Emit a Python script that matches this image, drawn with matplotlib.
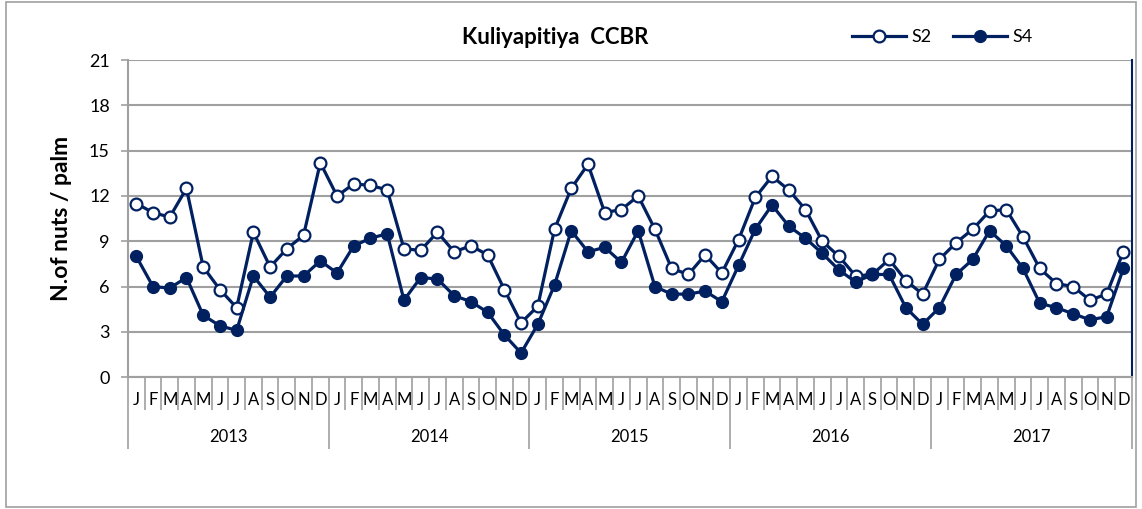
import numpy as np
import matplotlib.pyplot as plt
from matplotlib.patches import Rectangle
import matplotlib.transforms as mtransforms

plt.rcParams['font.family'] = ['Lato', 'DejaVu Sans']

years = ['2013', '2014', '2015', '2016', '2017']
months = ['J', 'F', 'M', 'A', 'M', 'J', 'J', 'A', 'S', 'O', 'N', 'D']

s2 = [11.5, 10.9, 10.6, 12.5, 7.3, 5.8, 4.6, 9.6, 7.3, 8.5, 9.4, 14.2,
      12.0, 12.8, 12.7, 12.4, 8.5, 8.4, 9.6, 8.3, 8.7, 8.1, 5.8, 3.6,
      4.7, 9.8, 12.5, 14.1, 10.9, 11.1, 12.0, 9.8, 7.2, 6.8, 8.1, 6.9,
      9.1, 11.9, 13.3, 12.4, 11.1, 9.0, 8.0, 6.7, 6.8, 7.8, 6.4, 5.5,
      7.8, 8.9, 9.8, 11.0, 11.1, 9.3, 7.2, 6.2, 6.0, 5.1, 5.5, 8.3]
s4 = [8.0, 6.0, 5.9, 6.6, 4.1, 3.4, 3.1, 6.7, 5.3, 6.7, 6.7, 7.7,
      6.9, 8.7, 9.2, 9.5, 5.1, 6.6, 6.5, 5.4, 5.0, 4.3, 2.8, 1.6,
      3.5, 6.1, 9.7, 8.3, 8.6, 7.6, 9.7, 6.0, 5.5, 5.5, 5.7, 5.0,
      7.4, 9.8, 11.4, 10.0, 9.2, 8.2, 7.1, 6.3, 6.8, 6.8, 4.6, 3.5,
      4.6, 6.8, 7.8, 9.7, 8.7, 7.2, 4.9, 4.6, 4.2, 3.8, 4.0, 7.2]

navy = '#002060'
grid_c = '#a0a0a0'

fig = plt.figure(figsize=(11.42, 5.09), dpi=100)
ax = fig.add_axes([0.112, 0.259, 0.879, 0.623])

x = np.arange(len(s2))
ax.plot(x, s2, color=navy, lw=2.3, marker='o', ms=8.5, mfc='white',
        mec=navy, mew=1.6, label='S2', zorder=3)
ax.plot(x, s4, color=navy, lw=2.3, marker='o', ms=8.5, mfc=navy,
        mec=navy, label='S4', zorder=3)

ax.set_xlim(-0.5, len(s2) - 0.5)
ax.set_ylim(0, 21)
ax.set_yticks(np.arange(0, 22, 3))
ax.yaxis.grid(True, color=grid_c, lw=1.5)
ax.set_axisbelow(True)
ax.tick_params(axis='y', labelsize=13, length=5, color=grid_c, width=1.2, pad=8)

ax.spines['top'].set_visible(False)
ax.spines['left'].set_color(grid_c)
ax.spines['left'].set_linewidth(1.5)
ax.spines['bottom'].set_color(grid_c)
ax.spines['bottom'].set_linewidth(1.5)
ax.spines['right'].set_color(navy)
ax.spines['right'].set_linewidth(1.5)

# category axis: month ticks and year separators
ax.set_xticks(np.arange(-0.5, len(s2), 12))
ax.set_xticks(np.arange(-0.5, len(s2), 1), minor=True)
ax.tick_params(axis='x', which='major', length=52, width=1.2, color=grid_c, labelbottom=False)
ax.tick_params(axis='x', which='minor', length=24, width=1.2, color=grid_c)

trans = mtransforms.blended_transform_factory(ax.transData, fig.transFigure)
for i in x:
    ax.text(i, 1 - 400 / 509, months[i % 12], transform=trans, ha='center',
            va='center', fontsize=12)
for k, yr in enumerate(years):
    ax.text(k * 12 + 5.5, 1 - 437 / 509, yr, transform=trans, ha='center',
            va='center', fontsize=12)

ax.set_ylabel('N.of nuts / palm', fontsize=16.5, fontweight='bold', labelpad=12)
fig.text(0.486, 1 - 37 / 509, 'Kuliyapitiya  CCBR', ha='center', va='center',
         fontsize=16, fontweight='bold')

ax.legend(loc='center', bbox_to_anchor=(0.825, 1 - 37 / 509),
          bbox_transform=fig.transFigure, ncol=2, frameon=False, fontsize=13,
          handlelength=3, columnspacing=1.2, handletextpad=0.3)

fig.patches.append(Rectangle((0.005, 0.003), 0.99, 0.994, transform=fig.transFigure,
                             fill=False, edgecolor='#a0a0a0', lw=1.2))

fig.savefig('out.png', dpi=100)
